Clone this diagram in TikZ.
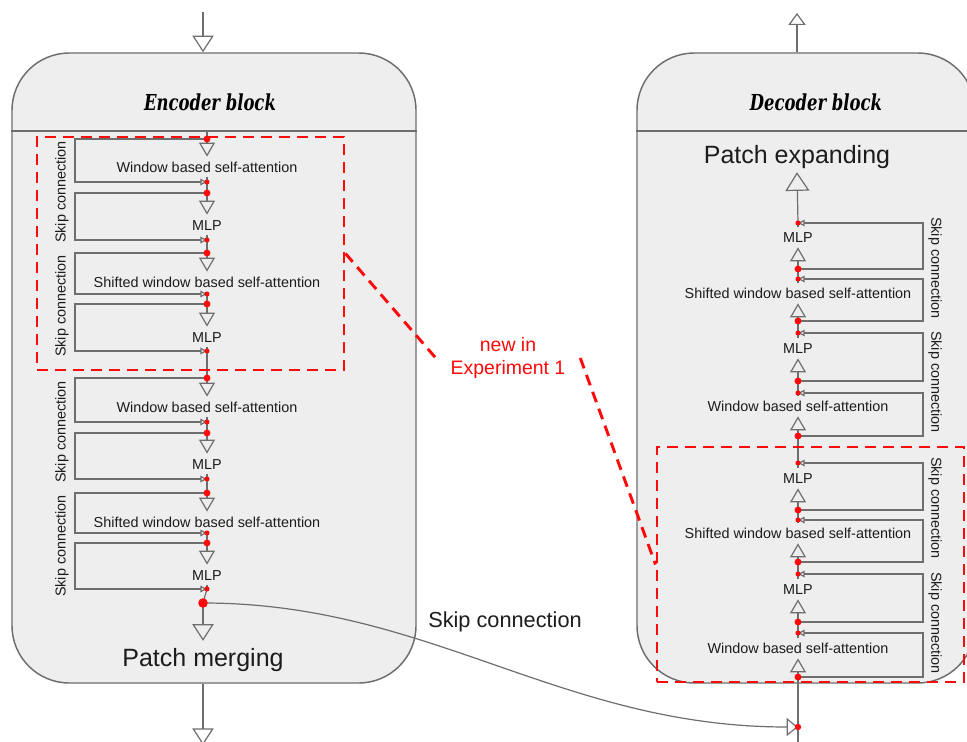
\documentclass[tikz,border=0pt]{standalone}
\usepackage{graphicx}
\usepackage{fontspec}
\newfontfamily\labelfont{Liberation Sans}
\newfontfamily\titlefont{DejaVu Serif Condensed}
\usetikzlibrary{arrows.meta}
\definecolor{boxfill}{HTML}{EEEEEE}
\definecolor{edgegray}{HTML}{6E6E6E}
\definecolor{ink}{HTML}{1C1C1C}
\definecolor{hotred}{HTML}{FF0A0A}
\newcommand{\blocktitle}[1]{\scalebox{0.83}[1.0]{#1}}
\tikzset{
  blockbox/.style={draw=edgegray, fill=boxfill, line width=1.1pt, rounded corners=43pt, inner sep=0pt},
  wire/.style={draw=edgegray, line width=0.9pt},
  midtip/.style={-{Triangle[open,length=10.5pt,width=12pt]}},
  bigtip/.style={-{Triangle[open,length=12.5pt,width=16pt]}},
  smalltip/.style={-{Triangle[open,length=5pt,width=5pt]}},
  lbl/.style={font=\labelfont\fontsize{10.8pt}{13pt}\selectfont, text=ink,
    inner xsep=1pt, inner ysep=3.75pt, text height=7.7pt, text depth=0pt},
  biglbl/.style={font=\labelfont\fontsize{18.75pt}{22pt}\selectfont, text=ink,
    inner xsep=1pt, inner ysep=6pt, text height=13.4pt, text depth=0pt},
  sidelbl/.style={font=\labelfont\fontsize{10.8pt}{13pt}\selectfont, text=ink, inner sep=0pt},
  titlelbl/.style={font=\titlefont\bfseries\itshape\fontsize{16.5pt}{20pt}\selectfont, text=black},
  newbox/.style={draw=hotred, line width=2.2pt, dash pattern=on 8.25pt off 5.25pt, inner sep=0pt},
  newline/.style={draw=hotred, line width=2.2pt, dash pattern=on 8.25pt off 5.25pt},
}
\begin{document}
\begin{tikzpicture}[x=0.75pt,y=-0.75pt]
\useasboundingbox (0,0) rectangle (967,742);
\fill[white] (0,0) rectangle (967,742);
\clip (0,0) rectangle (967,742);

% ---------- blocks ----------
\node[blockbox, minimum width=303pt, minimum height=472.5pt] (enc) at (214,368) {};
\node[blockbox, minimum width=253.5pt, minimum height=472.5pt] (dec) at (806,368) {};
\draw[draw=edgegray, line width=1.1pt] (enc.west |- 0,131) -- (enc.east |- 0,131);
\draw[draw=edgegray, line width=1.1pt] (dec.west |- 0,131) -- (dec.east |- 0,131);

\node[titlelbl] (enct) at (210,102) {\blocktitle{Encoder block}};
\node[titlelbl] (dect) at (816,102) {\blocktitle{Decoder block}};

% ---------- encoder ----------
\coordinate (encIn) at (203,12);
\coordinate (encOut) at (203,745);
\draw[wire,bigtip] (encIn) -- (encIn |- enc.north);

\foreach \t/\y/\b/\txt [count=\i] in {
  139/167/182/Window based self-attention,
  193/225/240/MLP,
  253/282/294/Shifted window based self-attention,
  304/337/351/MLP,
  378/407/422/Window based self-attention,
  433/464/479/MLP,
  493/522/533/Shifted window based self-attention,
  543/575/589/MLP}
{
  \coordinate (eT\i) at (207,\t);
  \coordinate (eB\i) at (207,\b);
  \node[lbl] (eL\i) at (207,\y) {\txt};
  \draw[wire,midtip] (eT\i) -- (eL\i.north);
  \draw[wire] (eL\i.south) -- (eB\i);
  \draw[wire,smalltip] (eT\i) -- (75,\t) |- (eB\i);
}
\draw[wire] (207,131) -- (eT1);
\foreach \i/\j in {1/2,2/3,3/4,4/5,5/6,6/7,7/8}
  \draw[wire] (eB\i) -- (eT\j);

\foreach \y in {192,306,432,546}
  \node[sidelbl, rotate=90] at (62,\y) {Skip connection};

\coordinate (pmdot) at (203,603);
\node[biglbl] (pm) at (203,658) {Patch merging};
\draw[wire] (eB8) -- (pmdot);
\draw[wire,bigtip] (pmdot) -- (pm.north);
\draw[wire,bigtip] (encIn |- enc.south) -- (encOut);

% ---------- decoder ----------
\coordinate (decOut) at (797,13);
\draw[wire,-{Triangle[open,length=9pt,width=13pt]}] (decOut |- dec.north) -- (decOut);

\foreach \b/\y/\a/\txt [count=\i] in {
  677/648/633/Window based self-attention,
  622/589/574/MLP,
  562/533/520/Shifted window based self-attention,
  510/478/463/MLP,
  436/406/393/Window based self-attention,
  381/348/333/MLP,
  321/293/279/Shifted window based self-attention,
  269/237/223/MLP}
{
  \coordinate (dB\i) at (798,\b);
  \coordinate (dA\i) at (798,\a);
  \node[lbl] (dL\i) at (798,\y) {\txt};
  \draw[wire,midtip] (dB\i) -- (dL\i.south);
  \draw[wire] (dL\i.north) -- (dA\i);
  \draw[wire,smalltip] (dB\i) -- (923,\b) |- (dA\i);
}
\foreach \i/\j in {1/2,2/3,3/4,4/5,5/6,6/7,7/8}
  \draw[wire] (dA\i) -- (dB\j);

\foreach \y in {268,382,508,623}
  \node[sidelbl, rotate=-90] at (935,\y) {Skip connection};

\node[biglbl] (pe) at (797,155) {Patch expanding};
\draw[wire,-{Triangle[open,length=14pt,width=18pt]}] (dA8) -- (pe.south);

\coordinate (decIn) at (798,745);
\coordinate (skin) at (798,727);
\draw[wire] (decIn) -- (dB1);

% ---------- long skip connection ----------
\draw[wire,-{Triangle[open,length=8.5pt,width=13.5pt]}]
  (pmdot) .. controls (430,603) and (560,727) .. (skin);
\node[font=\labelfont\fontsize{16.3pt}{19pt}\selectfont, text=ink] (skl) at (505,622) {Skip connection};

% ---------- junction dots ----------
\foreach \i in {1,...,8} {
  \fill[hotred] (eT\i) circle[radius=2.6pt];
  \fill[hotred] (eB\i) circle[radius=1.9pt];
  \fill[hotred] (dB\i) circle[radius=2.6pt];
  \fill[hotred] (dA\i) circle[radius=1.9pt];
}
\fill[hotred] (pmdot) circle[radius=3.6pt];
\fill[hotred] (skin) circle[radius=2.4pt];

% ---------- parts added in experiment 1 ----------
\node[newbox, minimum width=230.25pt, minimum height=174.75pt] (encnew) at (190.5,253.5) {};
\node[newbox, minimum width=230.25pt, minimum height=176.25pt] (decnew) at (810.5,564.5) {};
\node[font=\labelfont\fontsize{14.6pt}{17.25pt}\selectfont, text=hotred, align=center,
      inner xsep=11pt, inner ysep=0pt] (exp) at (508,358) {new in\\Experiment 1};
\draw[newline] (encnew.east) -- (exp.west);
\draw[newline] (exp.east) -- (decnew.west);
\end{tikzpicture}
\end{document}
